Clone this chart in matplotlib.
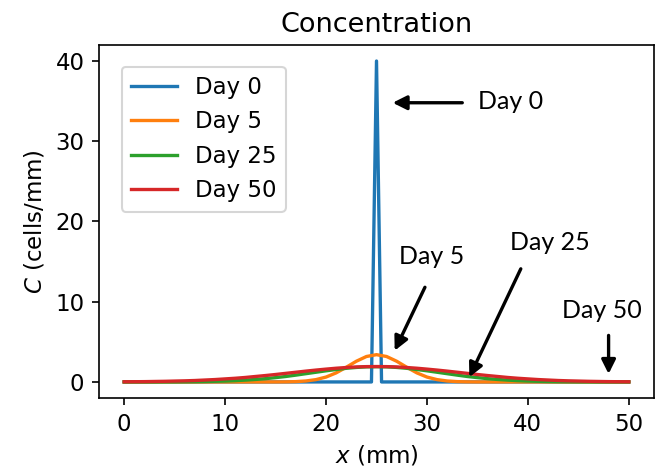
import matplotlib
matplotlib.use("Agg")
import matplotlib.pyplot as plt

# Position along the domain (mm)
x_spike = [0.0, 24.5, 25.0, 25.5, 50.0]
x_grid = list(range(0, 51))

# Cell concentration (cells/mm)
day0 = [0.0, 0.0, 40.0, 0.0, 0.0]

day5 = [0.00] * 16 + [0.01, 0.04, 0.12, 0.29, 0.61, 1.13, 1.83, 2.58, 3.17, 3.40,
                      3.17, 2.58, 1.83, 1.13, 0.61, 0.29, 0.12, 0.04, 0.01] + [0.00] * 16

day25 = [0.00, 0.00, 0.00, 0.00, 0.01, 0.01, 0.02, 0.03, 0.05, 0.08,
         0.11, 0.16, 0.23, 0.31, 0.41, 0.54, 0.68, 0.85, 1.03, 1.21,
         1.39, 1.55, 1.70, 1.81, 1.88, 1.90, 1.88, 1.81, 1.70, 1.55,
         1.39, 1.21, 1.03, 0.85, 0.68, 0.54, 0.41, 0.31, 0.23, 0.16,
         0.11, 0.08, 0.05, 0.03, 0.02, 0.01, 0.01, 0.00, 0.00, 0.00, 0.00]

day50 = [0.02, 0.03, 0.04, 0.06, 0.08, 0.11, 0.14, 0.18, 0.24, 0.30,
         0.38, 0.46, 0.56, 0.68, 0.80, 0.93, 1.07, 1.21, 1.35, 1.48,
         1.60, 1.71, 1.80, 1.87, 1.91, 1.92, 1.91, 1.87, 1.80, 1.71,
         1.60, 1.48, 1.35, 1.21, 1.07, 0.93, 0.80, 0.68, 0.56, 0.46,
         0.38, 0.30, 0.24, 0.18, 0.14, 0.11, 0.08, 0.06, 0.04, 0.03, 0.02]

labels = ["Day 0", "Day 5", "Day 25", "Day 50"]

# Callout labels: (text, text position, arrow tail, arrow head) in data units
callouts = [
    ("Day 0", (38.3, 34.9), (33.5, 34.8), (26.6, 34.8)),
    ("Day 5", (30.5, 15.6), (29.8, 11.8), (26.8, 3.9)),
    ("Day 25", (42.2, 17.4), (39.3, 14.1), (34.2, 0.6)),
    ("Day 50", (47.3, 8.9), (48.0, 5.8), (48.0, 1.0)),
]

fig = plt.figure(figsize=(661 / 150, 472 / 150), dpi=150)
ax = fig.add_axes([0.1498, 0.1568, 0.9894 - 0.1498, 0.9047 - 0.1568])

ax.plot(x_spike, day0, color="#1f77b4", lw=1.6, label=labels[0])
ax.plot(x_grid, day5, color="#ff7f0e", lw=1.6, label=labels[1])
ax.plot(x_grid, day25, color="#2ca02c", lw=1.6, label=labels[2])
ax.plot(x_grid, day50, color="#d62728", lw=1.6, label=labels[3])

ax.set_title("Concentration", fontsize=13)
ax.set_xlabel("$x$ (mm)", fontsize=11)
ax.set_ylabel("$C$ (cells/mm)", fontsize=11)
ax.set_yticks([0, 10, 20, 30, 40])
ax.set_xticks([0, 10, 20, 30, 40, 50])
ax.tick_params(labelsize=11)

ax.legend(loc="upper left", bbox_to_anchor=(0.041, 0.938), borderaxespad=0,
          fontsize=11)

for text, tpos, tail, head in callouts:
    ax.annotate("", xy=head, xytext=tail,
                arrowprops=dict(arrowstyle="-|>", color="black", lw=1.6,
                                mutation_scale=14, shrinkA=0, shrinkB=0))
    ax.text(tpos[0], tpos[1], text, ha="center", va="center",
            fontsize=12, family="Lato", color="black")

fig.savefig("out.png", dpi=150)
